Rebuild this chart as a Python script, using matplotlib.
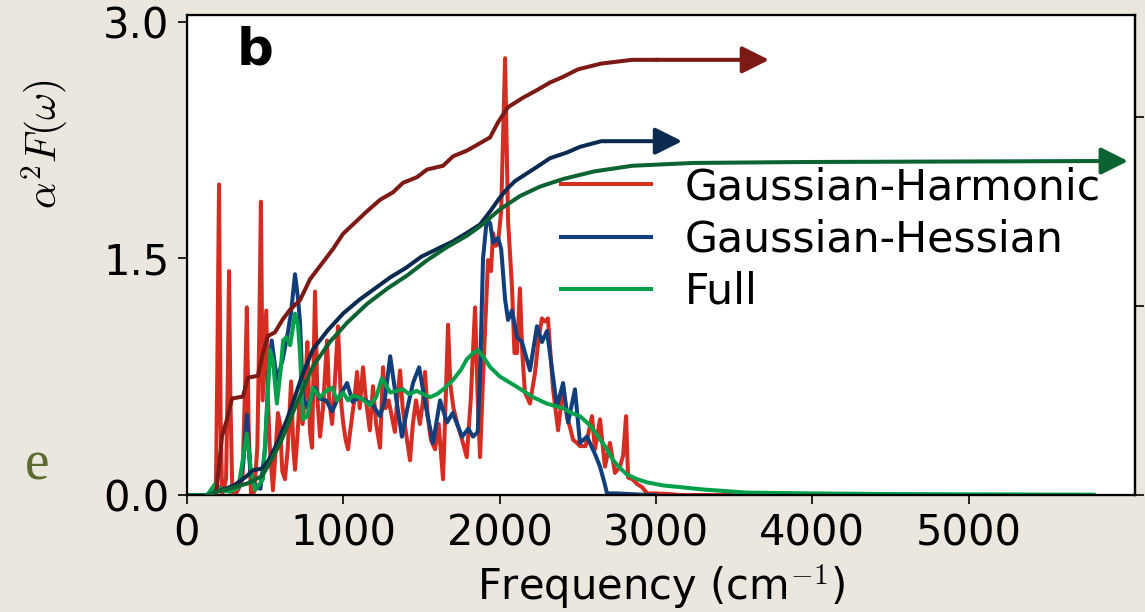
import numpy as np
import matplotlib.pyplot as plt

plt.rcParams['mathtext.fontset'] = 'cm'
plt.rcParams['font.family'] = 'DejaVu Sans'

# spectral functions alpha^2 F(w)
harm_x = [0, 160, 185, 195, 205, 215, 225, 250, 262, 269, 278, 290, 310, 335, 355, 372, 383, 395, 410,
          430, 450, 462, 473, 484, 496, 507, 518, 530, 550, 565, 582, 595, 610, 627, 645, 666, 680, 691,
          705, 720, 740, 755, 770, 787, 800, 819, 835, 851, 870, 885, 896, 910, 928, 945, 966, 985, 1000,
          1015, 1030, 1050, 1070, 1088, 1105, 1126, 1145, 1170, 1190, 1210, 1235, 1254, 1270, 1290, 1310,
          1330, 1345, 1363, 1380, 1400, 1427, 1445, 1465, 1490, 1510, 1523, 1540, 1560, 1587, 1610, 1638,
          1655, 1670, 1685, 1705, 1730, 1760, 1790, 1815, 1843, 1860, 1875, 1895, 1926, 1945, 1958, 1975,
          1990, 2010, 2035, 2054, 2079, 2095, 2111, 2130, 2145, 2162, 2194, 2226, 2250, 2271, 2290, 2309,
          2325, 2342, 2374, 2406, 2430, 2450, 2470, 2495, 2514, 2550, 2570, 2591, 2610, 2642, 2674, 2706,
          2738, 2770, 2790, 2809, 2822, 2850, 2879, 2911, 2943, 3000, 3100, 3150, 3500]
harm_y = [0, 0, 0.02, 0.9, 1.97, 0.5, 0.0, 0.1, 0.8, 1.42, 0.6, 0.02, 0.0, 0.05, 0.1, 0.7, 1.19, 0.4, 0.0,
          0.02, 0.3, 1.0, 1.86, 0.6, 0.9, 1.17, 0.6, 0.3, 0.03, 0.25, 0.52, 0.45, 0.15, 0.1, 0.3, 0.72, 0.3,
          0.16, 0.35, 0.6, 0.45, 0.63, 0.97, 0.4, 0.3, 1.29, 0.6, 0.37, 0.55, 0.8, 0.98, 0.6, 0.45, 0.7, 1.07,
          0.6, 0.45, 0.35, 0.29, 0.45, 0.6, 0.78, 0.55, 0.81, 0.6, 0.41, 0.69, 0.45, 0.3, 0.81, 0.55, 0.6,
          0.5, 0.4, 0.6, 0.79, 0.55, 0.4, 0.22, 0.45, 0.6, 0.45, 0.6, 0.78, 0.5, 0.35, 0.29, 0.45, 0.1, 0.6,
          1.08, 0.7, 0.55, 0.45, 0.35, 0.24, 0.6, 1.19, 0.6, 0.24, 0.77, 1.49, 1.42, 1.66, 1.58, 1.6, 1.8,
          2.77, 1.74, 1.32, 0.9, 0.9, 1.31, 0.9, 0.65, 0.58, 0.77, 1.0, 1.12, 1.1, 1.12, 0.9, 0.67, 0.41,
          0.69, 0.5, 0.43, 0.35, 0.33, 0.31, 0.31, 0.4, 0.5, 0.29, 0.48, 0.18, 0.33, 0.14, 0.18, 0.25, 0.5,
          0.11, 0.1, 0.07, 0.05, 0.01, 0.01, 0.005, 0.0, 0.0]

hess_x = [0, 140, 170, 217, 260, 330, 360, 383, 405, 440, 470, 500, 520, 542, 575, 610, 640, 665, 691,
          710, 723, 742, 774, 800, 819, 851, 890, 928, 960, 990, 1024, 1060, 1100, 1140, 1190, 1235, 1265,
          1300, 1340, 1375, 1410, 1446, 1485, 1530, 1574, 1619, 1663, 1700, 1760, 1800, 1830, 1860, 1875,
          1894, 1919, 1940, 1958, 1990, 2010, 2035, 2054, 2079, 2111, 2143, 2194, 2239, 2271, 2303, 2335,
          2367, 2406, 2438, 2482, 2514, 2559, 2610, 2642, 2670, 2687, 2750, 2850, 2950, 3000]
hess_y = [0, 0, 0.02, 0.04, 0.03, 0.05, 0.2, 0.51, 0.15, 0.05, 0.04, 0.3, 0.75, 0.98, 0.73, 0.85, 1.0,
          1.15, 1.40, 1.25, 1.1, 0.62, 0.55, 0.63, 0.68, 0.61, 0.6, 0.53, 0.6, 0.65, 0.71, 0.59, 0.62, 0.6,
          0.57, 0.5, 0.6, 0.88, 0.6, 0.37, 0.55, 0.71, 0.81, 0.55, 0.33, 0.6, 0.46, 0.52, 0.37, 0.42, 0.37,
          0.4, 0.77, 1.5, 1.76, 1.72, 1.6, 1.63, 1.56, 1.24, 1.11, 1.17, 1.0, 0.97, 0.79, 1.07, 0.97, 1.04,
          0.8, 0.56, 0.71, 0.46, 0.67, 0.33, 0.37, 0.26, 0.18, 0.08, 0.01, 0.01, 0.005, 0.0, 0.0]

full_x = [0, 130, 180, 230, 275, 330, 383, 410, 435, 486, 510, 531, 550, 575, 600, 615, 636, 660, 691,
          710, 723, 742, 770, 806, 851, 890, 928, 960, 998, 1030, 1062, 1100, 1130, 1170, 1210, 1247,
          1300, 1340, 1383, 1420, 1470, 1510, 1555, 1600, 1640, 1702, 1750, 1790, 1830, 1862, 1900, 1940,
          2003, 2087, 2215, 2300, 2407, 2460, 2514, 2580, 2623, 2680, 2727, 2770, 2815, 2880, 2943, 3050,
          3155, 3300, 3583, 4000, 4500, 5000, 5400, 5800]
full_y = [0, 0, 0.07, 0.03, 0.02, 0.05, 0.39, 0.15, 0.03, 0.1, 0.5, 0.92, 0.85, 0.58, 0.8, 0.98, 1.0,
          0.95, 1.15, 1.08, 0.9, 0.48, 0.5, 0.68, 0.62, 0.66, 0.68, 0.6, 0.65, 0.6, 0.63, 0.62, 0.6, 0.57,
          0.62, 0.74, 0.65, 0.66, 0.67, 0.64, 0.66, 0.64, 0.62, 0.64, 0.67, 0.73, 0.79, 0.86, 0.9, 0.92,
          0.87, 0.81, 0.75, 0.70, 0.62, 0.58, 0.55, 0.52, 0.50, 0.44, 0.38, 0.30, 0.22, 0.17, 0.13, 0.10,
          0.08, 0.06, 0.05, 0.035, 0.015, 0.01, 0.006, 0.004, 0.003, 0.002]

# cumulative lambda(w), right axis
lam_harm_x = [185, 205, 224, 256, 288, 358, 390, 454, 486, 518, 563, 614, 660, 723, 787, 851, 934, 998,
              1062, 1152, 1235, 1318, 1382, 1472, 1535, 1638, 1702, 1790, 1855, 1939, 1990, 2054, 2150,
              2239, 2322, 2406, 2502, 2649, 2847, 3000]
lam_harm_y = [0, 0.15, 0.31, 0.40, 0.51, 0.52, 0.62, 0.63, 0.75, 0.84, 0.86, 0.93, 0.98, 1.03, 1.14,
              1.21, 1.30, 1.38, 1.43, 1.50, 1.56, 1.60, 1.65, 1.68, 1.72, 1.74, 1.79, 1.82, 1.85, 1.89,
              1.97, 2.05, 2.10, 2.14, 2.18, 2.21, 2.25, 2.28, 2.30, 2.30]

lam_hess_x = [150, 200, 300, 383, 420, 480, 520, 575, 640, 691, 736, 806, 900, 1000, 1100, 1200, 1300,
              1400, 1500, 1600, 1700, 1800, 1875, 1940, 2000, 2050, 2100, 2175, 2250, 2322, 2430, 2514,
              2650, 2800, 2994]
lam_hess_y = [0, 0.02, 0.05, 0.1, 0.13, 0.14, 0.18, 0.27, 0.40, 0.52, 0.63, 0.77, 0.87, 0.96, 1.03,
              1.09, 1.15, 1.20, 1.26, 1.30, 1.34, 1.39, 1.43, 1.50, 1.57, 1.62, 1.66, 1.70, 1.74, 1.78,
              1.81, 1.84, 1.87, 1.87, 1.87]

lam_full_x = [130, 200, 300, 383, 480, 530, 600, 660, 710, 806, 915, 1024, 1152, 1280, 1408, 1535, 1663,
              1790, 1875, 2003, 2130, 2259, 2406, 2604, 2847, 3237, 3973, 5790]
lam_full_y = [0, 0.02, 0.04, 0.06, 0.1, 0.17, 0.28, 0.40, 0.50, 0.68, 0.81, 0.91, 1.01, 1.09, 1.16,
              1.24, 1.31, 1.37, 1.42, 1.51, 1.58, 1.63, 1.67, 1.71, 1.74, 1.755, 1.76, 1.765]

arrow_tips = [3724, 3168, 6020]

labels = ['Gaussian-Harmonic', 'Gaussian-Hessian', 'Full']
colors = ['#d62d22', '#113f7c', '#02a04b']
dark_colors = ['#7d1a15', '#0b2a50', '#0b6332']

bg = '#ebe7de'
fig = plt.figure(figsize=(11.45, 6.12), dpi=100, facecolor=bg)
ax = fig.add_axes([0.1633, 0.1912, 0.828, 0.7843])
ax.set_facecolor('white')

lw = 2.9
ax.plot(harm_x, harm_y, color=colors[0], lw=lw, label=labels[0])
ax.plot(hess_x, hess_y, color=colors[1], lw=lw, label=labels[1])
ax.plot(full_x, full_y, color=colors[2], lw=lw, label=labels[2])

ax.set_xlim(0, 6065)
ax.set_ylim(0, 3.044)
ax.set_xticks([0, 1000, 2000, 3000, 4000, 5000])
ax.set_yticks([0, 1.5, 3.0])
ax.set_yticklabels(['0.0', '1.5', '3.0'])
ax.tick_params(axis='both', direction='out', length=6.5, width=1.2, labelsize=30, pad=6)
for s in ax.spines.values():
    s.set_linewidth(1.6)

ax2 = ax.twinx()
ax2.set_ylim(0, 2.537)
ax2.set_yticks([0, 1, 2])
ax2.tick_params(axis='y', direction='out', length=6.5, width=1.2, labelright=False)
ax2.spines['right'].set_linewidth(1.6)

cum = [(lam_harm_x, lam_harm_y), (lam_hess_x, lam_hess_y), (lam_full_x, lam_full_y)]
for (cx, cy), c, tip in zip(cum, dark_colors, arrow_tips):
    ax2.plot(cx, cy, color=c, lw=lw)
    ax2.annotate('', xy=(tip, cy[-1]), xytext=(cx[-1], cy[-1]),
                 arrowprops=dict(arrowstyle='-|>,head_length=1.0,head_width=0.5',
                                 mutation_scale=16.5, color=c, lw=lw,
                                 shrinkA=0, shrinkB=0),
                 annotation_clip=False)

ax.legend(loc='upper left', bbox_to_anchor=(0.395, 0.685), frameon=False, fontsize=30.7,
          handlelength=2.1, handletextpad=0.8, labelspacing=0.24, borderpad=0, borderaxespad=0)

ax.text(0.052, 0.896, 'b', transform=ax.transAxes, fontsize=37, fontweight='bold',
        ha='left', va='baseline')

ax.set_xlabel('Frequency (cm$^{-1}$)', fontsize=30, labelpad=6)
fig.text(45 / 1145, 1 - 144 / 612, r'$\alpha^2F(\omega)$', fontsize=30, rotation=90,
         ha='center', va='center')
fig.text(37 / 1145, 1 - 466 / 612, 'e', fontsize=40, family='Liberation Serif',
         color='#5a6b2e', ha='center', va='center')

fig.savefig('out.png', dpi=100, facecolor=bg)
